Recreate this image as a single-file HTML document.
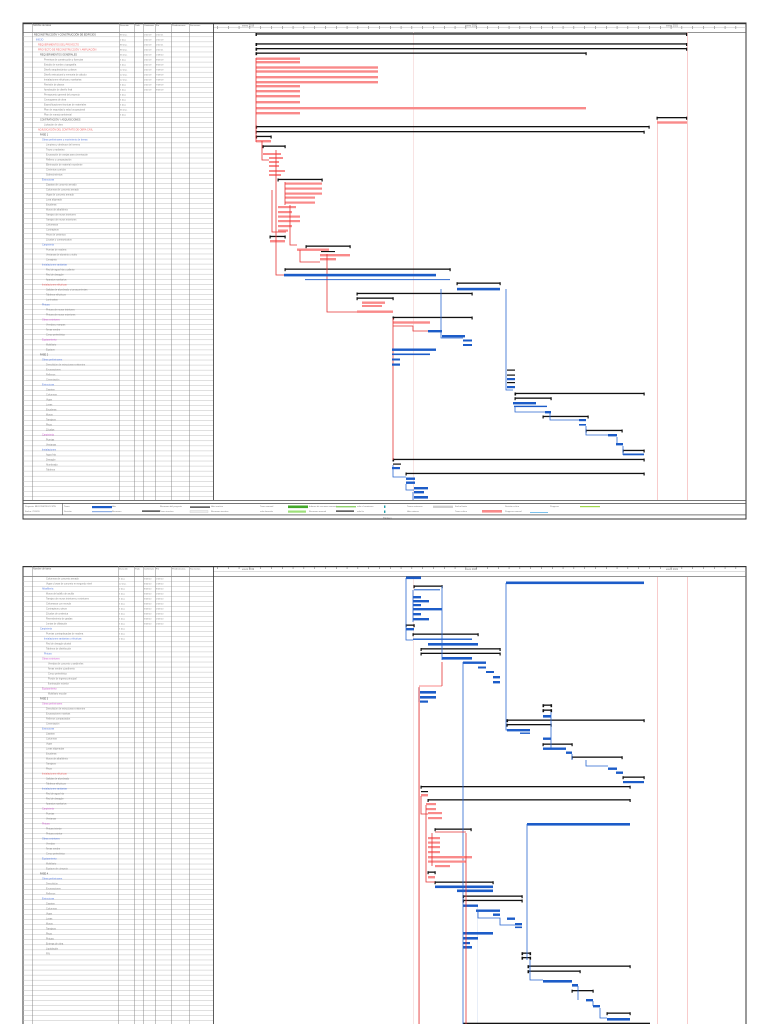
<!DOCTYPE html>
<html><head><meta charset="utf-8"><style>
html,body{margin:0;padding:0;background:#fff}
svg{display:block}
text{font-family:"Liberation Sans",sans-serif}
</style></head><body>
<svg width="768" height="1024" viewBox="0 0 768 1024" xmlns="http://www.w3.org/2000/svg">
<defs>
<pattern id="rows1" x="0" y="32" width="10" height="5.05" patternUnits="userSpaceOnUse"><rect x="0" y="4.6" width="10" height="0.45" fill="#bbb"/></pattern>
<pattern id="ticks" x="228" y="0" width="10.8" height="10" patternUnits="userSpaceOnUse"><rect x="0" y="6" width="0.5" height="3" fill="#666"/></pattern>
</defs>

<!-- ================= PAGE 1 ================= -->
<g>
<rect x="23" y="23" width="723" height="496" fill="none" stroke="#333" stroke-width="1"/>
<rect x="23" y="23" width="723" height="1.2" fill="#333"/>
<rect x="23" y="32" width="190" height="468" fill="url(#rows1)"/>
<rect x="213" y="32" width="533" height="0.7" fill="#666"/>
<rect x="23" y="32" width="190" height="0.7" fill="#666"/>
<rect x="213" y="23" width="533" height="9" fill="url(#ticks)"/>
<rect x="213" y="27" width="533" height="0.4" fill="#aaa"/>
<g fill="#888">
<rect x="32" y="23" width="0.5" height="477"/><rect x="119" y="23" width="0.5" height="477"/>
<rect x="134" y="23" width="0.5" height="477"/><rect x="143" y="23" width="0.5" height="477"/>
<rect x="155" y="23" width="0.5" height="477"/><rect x="171" y="23" width="0.5" height="477"/>
<rect x="189" y="23" width="0.5" height="477"/>
</g>
<rect x="213" y="23" width="0.8" height="477" fill="#333"/>
<text font-size="2.4" fill="#777"><tspan x="242" y="26.5">enero 2019</tspan><tspan x="465" y="26.5">enero 2020</tspan><tspan x="666" y="26.5">enero 2021</tspan></text>
<text x="33" y="26" font-size="2.4" fill="#666">Nombre de tarea</text>
<text font-size="2.2" fill="#666"><tspan x="120" y="26">Duración</tspan><tspan x="135" y="26">Trab.</tspan><tspan x="144" y="26">Comienzo</tspan><tspan x="156" y="26">Fin</tspan><tspan x="172" y="26">Predecesoras</tspan><tspan x="190" y="26">Sucesoras</tspan></text>
<text font-size="2.4" fill="#888">
<tspan x="34" y="35.5" fill="#444">RECONSTRUCCIÓN Y CONSTRUCCIÓN DE EDIFICIOS</tspan>
<tspan x="36" dy="5" fill="#5b7fe0">INICIO</tspan>
<tspan x="38" dy="5" fill="#f06868">REQUERIMIENTOS DEL PROYECTO</tspan>
<tspan x="38" dy="5" fill="#f06868">PROYECTO DE RECONSTRUCCIÓN Y AMPLIACIÓN</tspan>
<tspan x="40" dy="5" fill="#555">REQUERIMIENTOS GENERALES</tspan>
<tspan x="44" dy="5">Permisos de construcción y licencias</tspan>
<tspan x="44" dy="5">Estudio de suelos y topografía</tspan>
<tspan x="44" dy="5">Diseño arquitectónico y planos</tspan>
<tspan x="44" dy="5">Diseño estructural y memoria de cálculo</tspan>
<tspan x="44" dy="5">Instalaciones eléctricas y sanitarias</tspan>
<tspan x="44" dy="5">Revisión de planos</tspan>
<tspan x="44" dy="5">Aprobación de diseño final</tspan>
<tspan x="44" dy="5">Presupuesto general del proyecto</tspan>
<tspan x="44" dy="5">Cronograma de obra</tspan>
<tspan x="44" dy="5">Especificaciones técnicas de materiales</tspan>
<tspan x="44" dy="5">Plan de seguridad y salud ocupacional</tspan>
<tspan x="44" dy="5">Plan de manejo ambiental</tspan>
<tspan x="40" dy="5" fill="#555">CONTRATACIÓN Y ADQUISICIONES</tspan>
<tspan x="44" dy="5">Licitación de obra</tspan>
<tspan x="38" dy="5" fill="#f06868">ADJUDICACIÓN DEL CONTRATO DE OBRA CIVIL</tspan>
<tspan x="40" dy="5" fill="#444">FASE 1</tspan>
<tspan x="42" dy="5" fill="#5b7fe0">Obras preliminares y movimiento de tierras</tspan>
<tspan x="46" dy="5">Limpieza y desbroce del terreno</tspan>
<tspan x="46" dy="5">Trazo y replanteo</tspan>
<tspan x="46" dy="5">Excavación de zanjas para cimentación</tspan>
<tspan x="46" dy="5">Relleno y compactación</tspan>
<tspan x="46" dy="5">Eliminación de material excedente</tspan>
<tspan x="46" dy="5">Cimientos corridos</tspan>
<tspan x="46" dy="5">Sobrecimientos</tspan>
<tspan x="42" dy="5" fill="#5b7fe0">Estructuras</tspan>
<tspan x="46" dy="5">Zapatas de concreto armado</tspan>
<tspan x="46" dy="5">Columnas de concreto armado</tspan>
<tspan x="46" dy="5">Vigas de concreto armado</tspan>
<tspan x="46" dy="5">Losa aligerada</tspan>
<tspan x="46" dy="5">Escaleras</tspan>
<tspan x="46" dy="5">Muros de albañilería</tspan>
<tspan x="46" dy="5">Tarrajeo de muros interiores</tspan>
<tspan x="46" dy="5">Tarrajeo de muros exteriores</tspan>
<tspan x="46" dy="5">Cielorrasos</tspan>
<tspan x="46" dy="5">Contrapisos</tspan>
<tspan x="46" dy="5">Pisos de cerámica</tspan>
<tspan x="46" dy="5">Zócalos y contrazócalos</tspan>
<tspan x="42" dy="5" fill="#5b7fe0">Carpintería</tspan>
<tspan x="46" dy="5">Puertas de madera</tspan>
<tspan x="46" dy="5">Ventanas de aluminio y vidrio</tspan>
<tspan x="46" dy="5">Cerrajería</tspan>
<tspan x="42" dy="5" fill="#5b7fe0">Instalaciones sanitarias</tspan>
<tspan x="46" dy="5">Red de agua fría y caliente</tspan>
<tspan x="46" dy="5">Red de desagüe</tspan>
<tspan x="46" dy="5">Aparatos sanitarios</tspan>
<tspan x="42" dy="5" fill="#f06868">Instalaciones eléctricas</tspan>
<tspan x="46" dy="5">Salidas de alumbrado y tomacorrientes</tspan>
<tspan x="46" dy="5">Tableros eléctricos</tspan>
<tspan x="46" dy="5">Luminarias</tspan>
<tspan x="42" dy="5" fill="#5b7fe0">Pintura</tspan>
<tspan x="46" dy="5">Pintura de muros interiores</tspan>
<tspan x="46" dy="5">Pintura de muros exteriores</tspan>
<tspan x="42" dy="5" fill="#d060d0">Obras exteriores</tspan>
<tspan x="46" dy="5">Veredas y rampas</tspan>
<tspan x="46" dy="5">Áreas verdes</tspan>
<tspan x="46" dy="5">Cerco perimétrico</tspan>
<tspan x="42" dy="5" fill="#d060d0">Equipamiento</tspan>
<tspan x="46" dy="5">Mobiliario</tspan>
<tspan x="46" dy="5">Equipos</tspan>
<tspan x="40" dy="5" fill="#444">FASE 2</tspan>
<tspan x="42" dy="5" fill="#5b7fe0">Obras preliminares</tspan>
<tspan x="46" dy="5">Demolición de estructuras existentes</tspan>
<tspan x="46" dy="5">Excavaciones</tspan>
<tspan x="46" dy="5">Rellenos</tspan>
<tspan x="46" dy="5">Cimentación</tspan>
<tspan x="42" dy="5" fill="#5b7fe0">Estructuras</tspan>
<tspan x="46" dy="5">Zapatas</tspan>
<tspan x="46" dy="5">Columnas</tspan>
<tspan x="46" dy="5">Vigas</tspan>
<tspan x="46" dy="5">Losas</tspan>
<tspan x="46" dy="5">Escaleras</tspan>
<tspan x="46" dy="5">Muros</tspan>
<tspan x="46" dy="5">Tarrajeos</tspan>
<tspan x="46" dy="5">Pisos</tspan>
<tspan x="46" dy="5">Zócalos</tspan>
<tspan x="42" dy="5" fill="#d060d0">Carpintería</tspan>
<tspan x="46" dy="5">Puertas</tspan>
<tspan x="46" dy="5">Ventanas</tspan>
<tspan x="42" dy="5" fill="#5b7fe0">Instalaciones</tspan>
<tspan x="46" dy="5">Agua fría</tspan>
<tspan x="46" dy="5">Desagüe</tspan>
<tspan x="46" dy="5">Alumbrado</tspan>
<tspan x="46" dy="5">Tableros</tspan>
</text>
<text font-size="2.2" fill="#888">
<tspan x="120" y="35.5">88 días</tspan><tspan x="120" dy="5">0 días</tspan><tspan x="120" dy="5">88 días</tspan><tspan x="120" dy="5">88 días</tspan><tspan x="120" dy="5">66 días</tspan><tspan x="120" dy="5">5 días</tspan><tspan x="120" dy="5">5 días</tspan><tspan x="120" dy="5">22 días</tspan><tspan x="120" dy="5">22 días</tspan><tspan x="120" dy="5">22 días</tspan><tspan x="120" dy="5">5 días</tspan><tspan x="120" dy="5">5 días</tspan><tspan x="120" dy="5">5 días</tspan><tspan x="120" dy="5">5 días</tspan><tspan x="120" dy="5">5 días</tspan><tspan x="120" dy="5">66 días</tspan><tspan x="120" dy="5">5 días</tspan>
</text>
<text font-size="2.2" fill="#888">
<tspan x="144" y="35.5">2/01/19</tspan><tspan x="144" dy="5">2/01/19</tspan><tspan x="144" dy="5">2/01/19</tspan><tspan x="144" dy="5">2/01/19</tspan><tspan x="144" dy="5">2/01/19</tspan><tspan x="144" dy="5">2/01/19</tspan><tspan x="144" dy="5">2/01/19</tspan><tspan x="144" dy="5">2/01/19</tspan><tspan x="144" dy="5">2/01/19</tspan><tspan x="144" dy="5">2/01/19</tspan><tspan x="144" dy="5">2/01/19</tspan><tspan x="144" dy="5">2/01/19</tspan>
</text>
<text font-size="2.2" fill="#888">
<tspan x="156" y="35.5">2/01/21</tspan><tspan x="156" dy="5">2/01/19</tspan><tspan x="156" dy="5">2/01/21</tspan><tspan x="156" dy="5">2/01/21</tspan><tspan x="156" dy="5">1/08/20</tspan><tspan x="156" dy="5">9/03/19</tspan><tspan x="156" dy="5">9/03/19</tspan><tspan x="156" dy="5">7/09/19</tspan><tspan x="156" dy="5">7/09/19</tspan><tspan x="156" dy="5">7/09/19</tspan><tspan x="156" dy="5">7/09/19</tspan><tspan x="156" dy="5">9/03/19</tspan>
</text>

<rect x="413" y="32" width="0.6" height="468" fill="#f3d0d0"/>
<rect x="657" y="117" width="0.6" height="383" fill="#f3a8a8"/>
<rect x="687" y="32" width="0.6" height="468" fill="#f3a8a8"/>

<g fill="#111">
<rect x="256" y="33.3" width="431" height="1.3"/>
<rect x="256" y="43.3" width="431" height="1.3"/>
<rect x="256" y="48" width="431" height="1.3"/>
<rect x="256" y="52.5" width="330" height="1.3"/>
<rect x="657" y="117" width="30" height="1.3"/>
<rect x="256" y="126" width="393" height="1.3"/>
<rect x="256" y="131" width="388" height="1.3"/>
<rect x="256" y="135.8" width="15" height="1.3"/>
<rect x="263" y="145.5" width="22" height="1.3"/>
<rect x="278" y="178.8" width="44" height="1.3"/>
<rect x="270" y="235.8" width="15" height="1.3"/>
<rect x="306" y="245.5" width="44" height="1.3"/>
<rect x="321" y="251" width="14" height="1.1"/>
<rect x="285" y="268.5" width="165" height="1.3"/>
<rect x="457" y="282.5" width="43" height="1.3"/>
<rect x="357" y="292.8" width="115" height="1.3"/>
<rect x="357" y="297.5" width="36" height="1.3"/>
<rect x="393" y="316.8" width="79" height="1.3"/>
<rect x="507" y="369.5" width="8" height="1.2"/><rect x="507" y="374.5" width="8" height="1.2"/><rect x="507" y="382" width="8" height="1.2"/>
<rect x="515" y="392.8" width="129" height="1.3"/>
<rect x="515" y="397.5" width="36" height="1.3"/>
<rect x="543" y="415.8" width="45" height="1.3"/>
<rect x="586" y="429.8" width="36" height="1.3"/>
<rect x="623" y="449.8" width="21" height="1.3"/>
<rect x="393" y="458.8" width="251" height="1.3"/>
<rect x="393" y="463.5" width="8" height="1.2"/>
<rect x="406" y="472.8" width="238" height="1.3"/>
<rect x="255.5" y="33" width="1.4" height="3"/><rect x="686" y="33" width="1.2" height="3"/>
<rect x="255.5" y="43" width="1.6" height="3"/><rect x="686" y="43" width="1.2" height="3"/>
<rect x="255.5" y="47.7" width="1.6" height="3"/><rect x="686" y="47.7" width="1.2" height="3"/>
<rect x="255.5" y="52.2" width="1.6" height="3"/><rect x="585.5" y="52.2" width="1.2" height="3"/>
<rect x="656.5" y="116.7" width="1.2" height="3"/><rect x="686" y="116.7" width="1.2" height="3"/>
<rect x="255.5" y="125.7" width="1.6" height="3"/><rect x="648.5" y="125.7" width="1.2" height="3"/>
<rect x="255.5" y="130.7" width="1.2" height="3"/><rect x="643.5" y="130.7" width="1.2" height="3"/>
<rect x="255.5" y="135.5" width="1.6" height="3"/><rect x="270.5" y="135.5" width="1.2" height="3"/>
<rect x="262.5" y="145.2" width="1.2" height="3"/><rect x="284.5" y="145.2" width="1.2" height="3"/>
<rect x="277.5" y="178.5" width="1.2" height="3"/><rect x="321.5" y="178.5" width="1.2" height="3"/>
<rect x="269.5" y="235.5" width="1.2" height="3"/><rect x="284.5" y="235.5" width="1.2" height="3"/>
<rect x="305.5" y="245.2" width="1.2" height="3"/><rect x="349.5" y="245.2" width="1.2" height="3"/>
<rect x="284.5" y="268.2" width="1.2" height="3"/><rect x="449.5" y="268.2" width="1.2" height="3"/>
<rect x="456.5" y="282.2" width="1.2" height="3"/><rect x="499.5" y="282.2" width="1.2" height="3"/>
<rect x="356.5" y="292.5" width="1.2" height="3"/><rect x="471.5" y="292.5" width="1.2" height="3"/>
<rect x="356.5" y="297.2" width="1.2" height="3"/><rect x="392.5" y="297.2" width="1.2" height="3"/>
<rect x="392.5" y="316.5" width="1.6" height="3"/><rect x="471.5" y="316.5" width="1.2" height="3"/>
<rect x="514.5" y="392.5" width="1.6" height="3"/><rect x="643.5" y="392.5" width="1.2" height="3"/>
<rect x="514.5" y="397.2" width="1.2" height="3"/><rect x="550.5" y="397.2" width="1.2" height="3"/>
<rect x="542.5" y="415.5" width="1.2" height="3"/><rect x="587.5" y="415.5" width="1.2" height="3"/>
<rect x="585.5" y="429.5" width="1.2" height="3"/><rect x="621.5" y="429.5" width="1.2" height="3"/>
<rect x="622.5" y="449.5" width="1.2" height="3"/><rect x="643.5" y="449.5" width="1.2" height="3"/>
<rect x="392.5" y="458.5" width="1.6" height="3"/><rect x="643.5" y="458.5" width="1.2" height="3"/>
<rect x="405.5" y="472.5" width="1.2" height="3"/><rect x="643.5" y="472.5" width="1.2" height="3"/>
</g>

<g fill="#f98a8a">
<rect x="256" y="57.5" width="44" height="2.4"/><rect x="256" y="61" width="44" height="2.4"/>
<rect x="256" y="66.3" width="122" height="2.4"/><rect x="256" y="70.3" width="122" height="2.4"/>
<rect x="256" y="76" width="122" height="2.4"/><rect x="256" y="81" width="122" height="2.4"/>
<rect x="256" y="85" width="44" height="2.4"/><rect x="256" y="90" width="44" height="2.4"/>
<rect x="256" y="95" width="44" height="2.4"/><rect x="256" y="101" width="44" height="2.4"/>
<rect x="256" y="107" width="330" height="2.4"/>
<rect x="256" y="112" width="44" height="2.4"/>
<rect x="657" y="121.3" width="30" height="2.4"/>
<rect x="256" y="140" width="15" height="2.4"/>
<rect x="263" y="153" width="18" height="2"/><rect x="269" y="157" width="14" height="2"/>
<rect x="269" y="161" width="10" height="2"/><rect x="269" y="165" width="10" height="2"/>
<rect x="269" y="170" width="16" height="2"/><rect x="269" y="174" width="12" height="2"/>
<rect x="285" y="182.5" width="37" height="2.2"/><rect x="285" y="187.5" width="37" height="2.2"/>
<rect x="285" y="192.5" width="37" height="2.2"/>
<rect x="285" y="196.5" width="30" height="2.2"/><rect x="285" y="201.5" width="30" height="2.2"/>
<rect x="278" y="206" width="18" height="2.2"/><rect x="278" y="211" width="14" height="2.2"/>
<rect x="278" y="215.5" width="22" height="2.2"/><rect x="278" y="220" width="22" height="2.2"/>
<rect x="278" y="225" width="14" height="2.2"/><rect x="278" y="229.5" width="10" height="2.2"/>
<rect x="270" y="240" width="15" height="2.4"/>
<rect x="297" y="248.5" width="32" height="2.4"/>
<rect x="320" y="254" width="30" height="2.4"/>
<rect x="320" y="258" width="16" height="2.4"/>
<rect x="362" y="301.5" width="23" height="2.4"/><rect x="362" y="305" width="20" height="2"/>
<rect x="357" y="310.5" width="36" height="2.4"/>
<rect x="393" y="321.3" width="37" height="2.4"/>
</g>
<g fill="none" stroke="#e53434" stroke-width="0.8">
<path d="M256 58 V142 M262 141 V160 H269 M276 150 V206 M276 205 V275 H284"/>
<path d="M272 190 V232 H286 M285 182 V205 M290 205 V245 H297"/>
<path d="M327 254 V312 H357 M300 250 V262 H320"/>
<path d="M393 318 V460 M393 326 H413 V331 H428"/>
</g>

<g fill="#1c5cc8">
<rect x="284" y="273.8" width="152" height="2.6"/>
<rect x="457" y="287.8" width="43" height="2.6"/>
<rect x="428" y="330" width="14" height="2.4"/><rect x="442" y="335" width="23" height="2.4"/>
<rect x="463" y="339.5" width="9" height="2"/><rect x="463" y="344" width="9" height="2"/>
<rect x="392" y="348.5" width="44" height="2.4"/><rect x="392" y="353.5" width="38" height="1.6"/>
<rect x="392" y="358.5" width="8" height="2"/><rect x="392" y="363.5" width="8" height="2.2"/>
<rect x="507" y="378" width="8" height="2.2"/><rect x="507" y="386" width="8" height="2.2"/>
<rect x="513" y="402" width="23" height="2.4"/><rect x="514" y="405.7" width="33" height="1.4"/>
<rect x="545" y="411" width="6" height="2.4"/>
<rect x="579" y="419" width="7" height="2.2"/><rect x="579" y="424" width="7" height="1.6"/>
<rect x="608" y="434" width="9" height="2.4"/><rect x="616" y="443" width="7" height="2.4"/>
<rect x="623" y="453.5" width="21" height="1.8"/>
<rect x="392" y="467" width="8" height="2.2"/>
<rect x="406" y="477.5" width="9" height="2.4"/><rect x="406" y="481.5" width="9" height="2.4"/>
<rect x="414" y="487" width="14" height="2.4"/><rect x="414" y="491" width="10" height="2.4"/>
<rect x="414" y="496" width="14" height="2.6"/>
<rect x="305" y="279.2" width="145" height="0.9"/>
</g>
<g fill="none" stroke="#2a66cf" stroke-width="0.8">
<path d="M441 289 V338 H463 M506 289 V390 H513 M515 406 V412 H545 M550 413 V420 H579 M586 426 V435 H608 M617 437 V444 M623 446 V455"/>
<path d="M393 465 V477 H406 M406 484 V490 H414 M413 492 V500"/>
</g>

<rect x="23" y="500" width="723" height="0.8" fill="#555"/>
<rect x="23" y="503" width="723" height="0.8" fill="#555"/>
<rect x="23" y="514.5" width="723" height="0.8" fill="#555"/>
<rect x="62" y="503" width="0.6" height="12" fill="#555"/>
<text font-size="2.2" fill="#777"><tspan x="25" y="507">Proyecto: RECONSTRUCCIÓN</tspan><tspan x="25" y="512">Fecha: 7/01/20</tspan>
<tspan x="64" y="507">Tarea</tspan><tspan x="64" y="512">División</tspan><tspan x="112" y="507">Hito</tspan><tspan x="112" y="512">Resumen</tspan>
<tspan x="160" y="507">Resumen del proyecto</tspan><tspan x="160" y="512">Tarea inactiva</tspan><tspan x="211" y="507">Hito inactivo</tspan><tspan x="211" y="512">Resumen inactivo</tspan>
<tspan x="260" y="507">Tarea manual</tspan><tspan x="260" y="512">solo duración</tspan><tspan x="309" y="507">Informe de resumen manual</tspan><tspan x="309" y="512">Resumen manual</tspan>
<tspan x="357" y="507">solo el comienzo</tspan><tspan x="357" y="512">solo fin</tspan><tspan x="407" y="507">Tareas externas</tspan><tspan x="407" y="512">Hito externo</tspan>
<tspan x="455" y="507">Fecha límite</tspan><tspan x="455" y="512">Tarea crítica</tspan><tspan x="505" y="507">División crítica</tspan><tspan x="550" y="507">Progreso</tspan><tspan x="505" y="512">Progreso manual</tspan></text>
<rect x="92" y="506" width="20" height="2.2" fill="#1c5cc8"/>
<rect x="92" y="511.5" width="20" height="0.6" fill="#1c5cc8"/>
<rect x="190" y="506.5" width="20" height="1.2" fill="#222"/>
<rect x="142" y="510.5" width="18" height="1.2" fill="#222"/>
<rect x="190" y="510.5" width="18" height="2" fill="#eee" stroke="#bbb" stroke-width="0.3"/>
<rect x="288" y="505.5" width="20" height="2.6" fill="#43a82a"/>
<rect x="336" y="506" width="20" height="1.4" fill="#8fd26c"/>
<rect x="288" y="510.5" width="18" height="2.2" fill="#9ee07a"/>
<rect x="336" y="510.5" width="18" height="1.2" fill="#222"/>
<rect x="384" y="505.5" width="1.4" height="2.4" fill="#1a9aa6"/><rect x="384" y="510.5" width="1.4" height="2.4" fill="#1a9aa6"/>
<rect x="433" y="505.7" width="20" height="2.2" fill="#ccc"/>
<rect x="482" y="510" width="20" height="2.6" fill="#f98a8a"/>
<rect x="530" y="512" width="18" height="0.8" fill="#5ab0e6"/>
<rect x="580" y="506" width="20" height="1.2" fill="#9fd84a"/>
<text x="383" y="518.5" font-size="2.2" fill="#777">Página 1</text>
</g>

<!-- ================= PAGE 2 ================= -->
<g>
<rect x="23" y="566.5" width="723" height="460" fill="none" stroke="#333" stroke-width="1"/>
<rect x="23" y="566" width="723" height="1.2" fill="#333"/>
<rect x="23" y="576" width="190" height="450" fill="url(#rows1)" transform="translate(0,-1)"/>
<rect x="23" y="576" width="723" height="0.7" fill="#666"/>
<rect x="213" y="567" width="533" height="9" fill="url(#ticks)"/>
<rect x="213" y="571" width="533" height="0.4" fill="#aaa"/>
<g fill="#888">
<rect x="32" y="566" width="0.5" height="458"/><rect x="118" y="566" width="0.5" height="458"/>
<rect x="134" y="566" width="0.5" height="458"/><rect x="143" y="566" width="0.5" height="458"/>
<rect x="155" y="566" width="0.5" height="458"/><rect x="171" y="566" width="0.5" height="458"/>
<rect x="189" y="566" width="0.5" height="458"/>
</g>
<rect x="213" y="566" width="0.8" height="458" fill="#333"/>
<text font-size="2.4" fill="#777"><tspan x="242" y="570">enero 2019</tspan><tspan x="465" y="570">enero 2020</tspan><tspan x="666" y="570">enero 2021</tspan></text>
<text x="33" y="569.5" font-size="2.4" fill="#666">Nombre de tarea</text>
<text font-size="2.2" fill="#666"><tspan x="119" y="569.5">Duración</tspan><tspan x="135" y="569.5">Trab.</tspan><tspan x="144" y="569.5">Comienzo</tspan><tspan x="156" y="569.5">Fin</tspan><tspan x="172" y="569.5">Predecesoras</tspan><tspan x="190" y="569.5">Sucesoras</tspan></text>
<text font-size="2.4" fill="#888">
<tspan x="46" y="579.5">Columnas de concreto armado</tspan>
<tspan x="46" dy="5">Vigas y losas de concreto en segundo nivel</tspan>
<tspan x="42" dy="5" fill="#5b7fe0">Albañilería</tspan>
<tspan x="46" dy="5">Muros de ladrillo de arcilla</tspan>
<tspan x="46" dy="5">Tarrajeo de muros interiores y exteriores</tspan>
<tspan x="46" dy="5">Cielorrasos con mezcla</tspan>
<tspan x="46" dy="5">Contrapisos y pisos</tspan>
<tspan x="46" dy="5">Zócalos de cerámica</tspan>
<tspan x="46" dy="5">Revestimiento de gradas</tspan>
<tspan x="46" dy="5">Juntas de dilatación</tspan>
<tspan x="40" dy="5" fill="#5b7fe0">Carpintería</tspan>
<tspan x="46" dy="5">Puertas contraplacadas de madera</tspan>
<tspan x="44" dy="5" fill="#5b7fe0">Instalaciones sanitarias y eléctricas</tspan>
<tspan x="46" dy="5">Red de desagüe pluvial</tspan>
<tspan x="46" dy="5">Tableros de distribución</tspan>
<tspan x="44" dy="5" fill="#5b7fe0">Pintura</tspan>
<tspan x="42" dy="5" fill="#d060d0">Obras exteriores</tspan>
<tspan x="48" dy="5">Veredas de concreto y sardineles</tspan>
<tspan x="48" dy="5">Áreas verdes y jardinería</tspan>
<tspan x="48" dy="5">Cerco perimétrico</tspan>
<tspan x="48" dy="5">Portón de ingreso principal</tspan>
<tspan x="48" dy="5">Iluminación exterior</tspan>
<tspan x="42" dy="5" fill="#d060d0">Equipamiento</tspan>
<tspan x="48" dy="5">Mobiliario escolar</tspan>
<tspan x="40" dy="5" fill="#444">FASE 3</tspan>
<tspan x="42" dy="5" fill="#d060d0">Obras preliminares</tspan>
<tspan x="46" dy="5">Demolición de estructuras existentes</tspan>
<tspan x="46" dy="5">Excavaciones masivas</tspan>
<tspan x="46" dy="5">Rellenos compactados</tspan>
<tspan x="46" dy="5">Cimentación</tspan>
<tspan x="42" dy="5" fill="#5b7fe0">Estructuras</tspan>
<tspan x="46" dy="5">Zapatas</tspan>
<tspan x="46" dy="5">Columnas</tspan>
<tspan x="46" dy="5">Vigas</tspan>
<tspan x="46" dy="5">Losas aligeradas</tspan>
<tspan x="46" dy="5">Escaleras</tspan>
<tspan x="46" dy="5">Muros de albañilería</tspan>
<tspan x="46" dy="5">Tarrajeos</tspan>
<tspan x="46" dy="5">Pisos</tspan>
<tspan x="42" dy="5" fill="#f06868">Instalaciones eléctricas</tspan>
<tspan x="46" dy="5">Salidas de alumbrado</tspan>
<tspan x="46" dy="5">Tableros eléctricos</tspan>
<tspan x="42" dy="5" fill="#5b7fe0">Instalaciones sanitarias</tspan>
<tspan x="46" dy="5">Red de agua fría</tspan>
<tspan x="46" dy="5">Red de desagüe</tspan>
<tspan x="46" dy="5">Aparatos sanitarios</tspan>
<tspan x="42" dy="5" fill="#d060d0">Carpintería</tspan>
<tspan x="46" dy="5">Puertas</tspan>
<tspan x="46" dy="5">Ventanas</tspan>
<tspan x="42" dy="5" fill="#d060d0">Pintura</tspan>
<tspan x="46" dy="5">Pintura interior</tspan>
<tspan x="46" dy="5">Pintura exterior</tspan>
<tspan x="42" dy="5" fill="#5b7fe0">Obras exteriores</tspan>
<tspan x="46" dy="5">Veredas</tspan>
<tspan x="46" dy="5">Áreas verdes</tspan>
<tspan x="46" dy="5">Cerco perimétrico</tspan>
<tspan x="42" dy="5" fill="#5b7fe0">Equipamiento</tspan>
<tspan x="46" dy="5">Mobiliario</tspan>
<tspan x="46" dy="5">Equipos de cómputo</tspan>
<tspan x="40" dy="5" fill="#444">FASE 4</tspan>
<tspan x="42" dy="5" fill="#5b7fe0">Obras preliminares</tspan>
<tspan x="46" dy="5">Demolición</tspan>
<tspan x="46" dy="5">Excavaciones</tspan>
<tspan x="46" dy="5">Rellenos</tspan>
<tspan x="42" dy="5" fill="#5b7fe0">Estructuras</tspan>
<tspan x="46" dy="5">Zapatas</tspan>
<tspan x="46" dy="5">Columnas</tspan>
<tspan x="46" dy="5">Vigas</tspan>
<tspan x="46" dy="5">Losas</tspan>
<tspan x="46" dy="5">Muros</tspan>
<tspan x="46" dy="5">Tarrajeos</tspan>
<tspan x="46" dy="5">Pisos</tspan>
<tspan x="46" dy="5">Pintura</tspan>
<tspan x="46" dy="5">Entrega de obra</tspan>
<tspan x="46" dy="5">Liquidación</tspan>
<tspan x="46" dy="5">FIN</tspan>
</text>
<text font-size="2.2" fill="#888">
<tspan x="119" y="579.5">5 días</tspan><tspan x="119" dy="5">22 días</tspan><tspan x="119" dy="5">0 días</tspan><tspan x="119" dy="5">5 días</tspan><tspan x="119" dy="5">5 días</tspan><tspan x="119" dy="5">5 días</tspan><tspan x="119" dy="5">5 días</tspan><tspan x="119" dy="5">5 días</tspan><tspan x="119" dy="5">5 días</tspan><tspan x="119" dy="5">5 días</tspan><tspan x="119" dy="5">5 días</tspan><tspan x="119" dy="5">5 días</tspan><tspan x="119" dy="5">0 días</tspan>
</text>
<text font-size="2.2" fill="#888">
<tspan x="144" y="579.5">5/03/20</tspan><tspan x="144" dy="5">6/04/20</tspan><tspan x="144" dy="5">8/03/20</tspan><tspan x="144" dy="5">5/03/20</tspan><tspan x="144" dy="5">5/03/20</tspan><tspan x="144" dy="5">5/03/20</tspan><tspan x="144" dy="5">5/03/20</tspan><tspan x="144" dy="5">5/03/20</tspan><tspan x="144" dy="5">5/03/20</tspan><tspan x="144" dy="5">5/03/20</tspan>
</text>
<text font-size="2.2" fill="#888">
<tspan x="156" y="579.5">2/03/20</tspan><tspan x="156" dy="5">1/08/20</tspan><tspan x="156" dy="5">8/03/20</tspan><tspan x="156" dy="5">2/03/20</tspan><tspan x="156" dy="5">2/03/20</tspan><tspan x="156" dy="5">2/03/20</tspan><tspan x="156" dy="5">2/03/20</tspan><tspan x="156" dy="5">2/03/20</tspan><tspan x="156" dy="5">2/03/20</tspan><tspan x="156" dy="5">2/03/20</tspan>
</text>

<rect x="413" y="577" width="0.6" height="447" fill="#f3d0d0"/>
<rect x="419" y="686" width="0.6" height="338" fill="#f3b0b0"/>
<rect x="657" y="577" width="0.6" height="447" fill="#f3a8a8"/>
<rect x="687" y="577" width="0.6" height="447" fill="#f3a8a8"/>
<rect x="477" y="905" width="0.6" height="119" fill="#d8e2f4"/>

<g fill="#111">
<rect x="414" y="585.5" width="28" height="1.3"/>
<rect x="406" y="624.5" width="8" height="1.3"/>
<rect x="413" y="633.5" width="65" height="1.3"/>
<rect x="421" y="648.2" width="79" height="1.3"/>
<rect x="421" y="652.7" width="79" height="1.3"/>
<rect x="543" y="704.5" width="8" height="1.3"/><rect x="543" y="709.5" width="8" height="1.3"/>
<rect x="507" y="719.5" width="137" height="1.3"/>
<rect x="507" y="724" width="44" height="1.3"/>
<rect x="543" y="743.5" width="29" height="1.3"/>
<rect x="572" y="756.5" width="50" height="1.3"/>
<rect x="623" y="776.5" width="21" height="1.3"/>
<rect x="421" y="786" width="209" height="1.3"/>
<rect x="421" y="791" width="7" height="1.2"/>
<rect x="428" y="799.2" width="202" height="1.3"/>
<rect x="435" y="828.5" width="36" height="1.3"/>
<rect x="428" y="871.5" width="7" height="1.3"/>
<rect x="435" y="881.5" width="58" height="1.3"/>
<rect x="463" y="895.5" width="59" height="1.3"/>
<rect x="463" y="899.8" width="59" height="1.3"/>
<rect x="522" y="952.5" width="8" height="1.3"/><rect x="522" y="957" width="8" height="1.3"/>
<rect x="528" y="965.5" width="102" height="1.3"/>
<rect x="528" y="970.5" width="52" height="1.3"/>
<rect x="572" y="990" width="21" height="1.3"/>
<rect x="607" y="1012.5" width="23" height="1.3"/>
<rect x="463" y="1022.7" width="187" height="1.3"/>
<rect x="413.5" y="585.2" width="1.2" height="3"/><rect x="441.5" y="585.2" width="1.2" height="3"/>
<rect x="405.5" y="624.2" width="1.2" height="3"/><rect x="413.5" y="624.2" width="1.2" height="3"/>
<rect x="412.5" y="633.2" width="1.2" height="3"/><rect x="477.5" y="633.2" width="1.2" height="3"/>
<rect x="420.5" y="648" width="1.2" height="3"/><rect x="499.5" y="648" width="1.2" height="3"/>
<rect x="420.5" y="652.5" width="1.2" height="3"/><rect x="499.5" y="652.5" width="1.2" height="3"/>
<rect x="542.5" y="704.2" width="1.6" height="3"/><rect x="550.5" y="704.2" width="1.6" height="3"/>
<rect x="542.5" y="709.2" width="1.6" height="3"/><rect x="550.5" y="709.2" width="1.6" height="3"/>
<rect x="506.5" y="719.2" width="1.6" height="3"/><rect x="643.5" y="719.2" width="1.2" height="3"/>
<rect x="506.5" y="723.7" width="1.2" height="3"/><rect x="550.5" y="723.7" width="1.2" height="3"/>
<rect x="542.5" y="743.2" width="1.2" height="3"/><rect x="571.5" y="743.2" width="1.2" height="3"/>
<rect x="571.5" y="756.2" width="1.2" height="3"/><rect x="621.5" y="756.2" width="1.2" height="3"/>
<rect x="622.5" y="776.2" width="1.2" height="3"/><rect x="643.5" y="776.2" width="1.2" height="3"/>
<rect x="420.5" y="785.7" width="1.2" height="3"/><rect x="629.5" y="785.7" width="1.2" height="3"/>
<rect x="427.5" y="799" width="1.2" height="3"/><rect x="629.5" y="799" width="1.2" height="3"/>
<rect x="434.5" y="828.2" width="1.2" height="3"/><rect x="470.5" y="828.2" width="1.2" height="3"/>
<rect x="427.5" y="871.2" width="1.2" height="3"/><rect x="434.5" y="871.2" width="1.2" height="3"/>
<rect x="434.5" y="881.2" width="1.2" height="3"/><rect x="492.5" y="881.2" width="1.2" height="3"/>
<rect x="462.5" y="895.2" width="1.6" height="3"/><rect x="521.5" y="895.2" width="1.2" height="3"/>
<rect x="462.5" y="899.5" width="1.6" height="3"/><rect x="521.5" y="899.5" width="1.2" height="3"/>
<rect x="521.5" y="952.2" width="1.6" height="3"/><rect x="529.5" y="952.2" width="1.6" height="3"/>
<rect x="521.5" y="956.7" width="1.6" height="3"/><rect x="529.5" y="956.7" width="1.6" height="3"/>
<rect x="527.5" y="965.2" width="1.6" height="3"/><rect x="629.5" y="965.2" width="1.2" height="3"/>
<rect x="527.5" y="970.2" width="1.6" height="3"/><rect x="579.5" y="970.2" width="1.2" height="3"/>
<rect x="571.5" y="989.7" width="1.2" height="3"/><rect x="592.5" y="989.7" width="1.2" height="3"/>
<rect x="606.5" y="1012.2" width="1.2" height="3"/><rect x="629.5" y="1012.2" width="1.2" height="3"/>
</g>

<g fill="#1c5cc8">
<rect x="406" y="576.5" width="15" height="2.6"/>
<rect x="414" y="589.3" width="26" height="1"/>
<rect x="413" y="596" width="8" height="2.4"/><rect x="413" y="600" width="16" height="2.4"/>
<rect x="413" y="604" width="8" height="2.2"/><rect x="413" y="608" width="29" height="2.4"/>
<rect x="413" y="613" width="8" height="2.4"/><rect x="413" y="618" width="16" height="2.4"/>
<rect x="406" y="628" width="8" height="2.4"/>
<rect x="413" y="638.5" width="59" height="1.4"/>
<rect x="428" y="643" width="50" height="2.6"/>
<rect x="442" y="657" width="30" height="2.6"/>
<rect x="463" y="661.5" width="23" height="2.4"/>
<rect x="478" y="666.5" width="8" height="2"/><rect x="486" y="671" width="8" height="2"/>
<rect x="493" y="676" width="7" height="2.4"/><rect x="493" y="681" width="7" height="2.4"/>
<rect x="420" y="691" width="16" height="2.6"/><rect x="420" y="696" width="16" height="2.6"/>
<rect x="420" y="700.5" width="8" height="2.2"/>
<rect x="506" y="581.5" width="138" height="2.6"/>
<rect x="543" y="715" width="8" height="2.6"/>
<rect x="507" y="729" width="23" height="2.4"/><rect x="520" y="732.5" width="10" height="1.4"/>
<rect x="543" y="737.5" width="8" height="2.4"/>
<rect x="543" y="747.5" width="23" height="2.4"/><rect x="566" y="751.5" width="6" height="2.4"/>
<rect x="608" y="767.5" width="9" height="2.4"/><rect x="616" y="771.5" width="7" height="2.4"/>
<rect x="623" y="781" width="21" height="2.2"/>
<rect x="435" y="885.5" width="58" height="2.6"/>
<rect x="457" y="889.5" width="36" height="2.6"/>
<rect x="463" y="904.5" width="15" height="2.4"/>
<rect x="476" y="909.5" width="24" height="2.4"/>
<rect x="493" y="913.5" width="7" height="2.4"/>
<rect x="507" y="917.5" width="8" height="2.4"/>
<rect x="515" y="923" width="7" height="2.4"/><rect x="515" y="926.5" width="7" height="1.6"/>
<rect x="463" y="932" width="30" height="2.6"/>
<rect x="463" y="937" width="15" height="2.6"/>
<rect x="463" y="942" width="7" height="2.2"/>
<rect x="463" y="946" width="9" height="2.6"/>
<rect x="527" y="823" width="103" height="2.6"/>
<rect x="543" y="980" width="29" height="2.6"/>
<rect x="572" y="984" width="6" height="2.6"/>
<rect x="586" y="999" width="7" height="2.4"/>
<rect x="593" y="1005" width="7" height="2.4"/>
<rect x="607" y="1018" width="23" height="2.6"/>
</g>
<g fill="none" stroke="#2a66cf" stroke-width="0.8">
<path d="M406 578 V640 H413 M413 590 V622 M442 586 V660 M463 662 V1024"/>
<path d="M506 583 V730 H520 M551 712 V740 M551 728 V748 M572 754 V760 M586 760 V766 H608"/>
<path d="M419 688 V702 M527 824 V960 M530 960 V980 H543 M578 986 V1000 M593 1001 V1006 M600 1008 V1018 H607"/>
<path d="M478 910 V918 H500 V925 H515"/>
</g>
<g fill="#f98a8a">
<rect x="421" y="794" width="7" height="2.4"/>
<rect x="426" y="803" width="10" height="2.2"/><rect x="426" y="808" width="10" height="2.2"/>
<rect x="428" y="812" width="14" height="2.2"/><rect x="428" y="817" width="14" height="2.2"/>
<rect x="428" y="837" width="12" height="2.2"/><rect x="428" y="841.5" width="12" height="2.2"/>
<rect x="428" y="846" width="12" height="2.2"/><rect x="428" y="851" width="12" height="2.2"/>
<rect x="428" y="856" width="44" height="2.4"/><rect x="428" y="860.5" width="38" height="2.2"/>
<rect x="435" y="865" width="15" height="2.2"/>
<rect x="428" y="876" width="7" height="2.4"/>
<rect x="419" y="685.5" width="23" height="1"/>
</g>
<g fill="none" stroke="#e53434" stroke-width="0.8">
<path d="M442 662 V686 M419 687 V1024 M421 796 V814 H428 M426 805 V882 H435 M432 833 V866 M466 833 V1024 M435 832 H466"/>
</g>
</g>
</svg>
</body></html>
